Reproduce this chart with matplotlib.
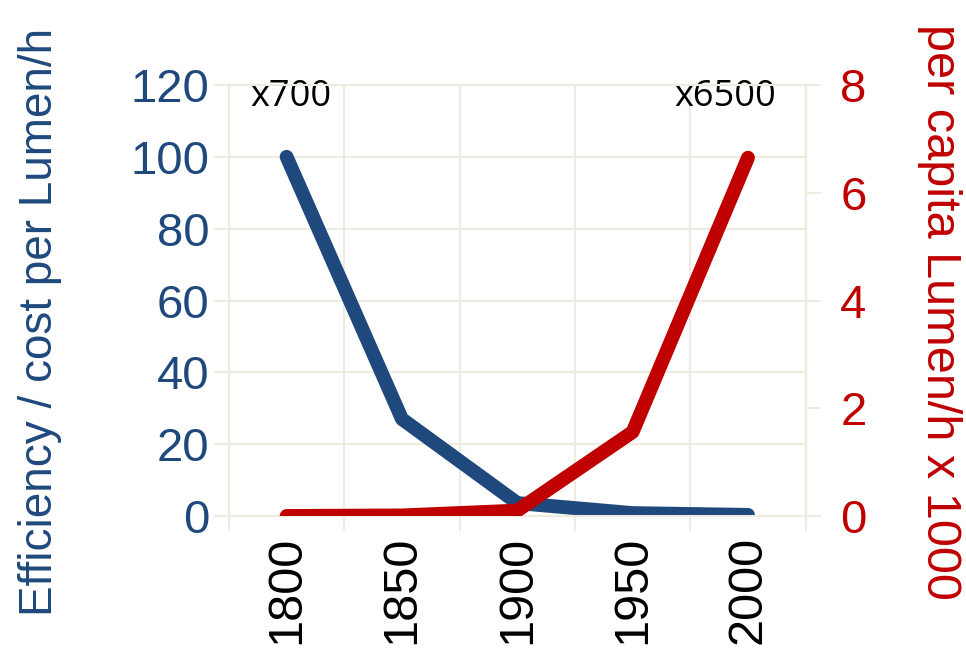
import matplotlib
matplotlib.use('Agg')
import matplotlib.pyplot as plt

years = ['1800', '1850', '1900', '1950', '2000']
efficiency = [100, 27, 3.6, 0.8, 0.3]
perCapita = [0, 0.01, 0.1, 1.56, 6.65]
leftTicks = [0, 20, 40, 60, 80, 100, 120]
rightTicks = [0, 2, 4, 6, 8]

blue = '#1F497D'
red = '#C00000'
gridCol = '#EEECE1'

plt.rcParams['font.family'] = ['Liberation Sans', 'DejaVu Sans']

fig = plt.figure(figsize=(9.66, 6.52), dpi=100)
ax = fig.add_axes([0.237, 0.2086, 0.597, 0.661])
ax2 = ax.twinx()

xs = list(range(len(years)))
ax.plot(xs, efficiency, color=blue, linewidth=10, solid_capstyle='round', solid_joinstyle='round', zorder=3)
ax2.plot(xs, perCapita, color=red, linewidth=10, solid_capstyle='round', solid_joinstyle='round', zorder=3)

ax.set_xlim(-0.5, 4.5)
ax.set_ylim(0, 120)
ax2.set_ylim(0, 8)

ax.set_yticks(leftTicks)
ax2.set_yticks(rightTicks)
ax.set_xticks([i - 0.5 for i in range(len(years) + 1)])
ax.set_xticklabels([])
ax.set_xticks(xs, minor=True)
ax.set_xticklabels(years, minor=True, rotation=90, fontsize=35)
ax.tick_params(axis='x', which='minor', length=0, pad=14)
ax.tick_params(axis='x', which='major', length=11, width=1.5, color=gridCol)

ax.tick_params(axis='y', labelsize=34, labelcolor=blue, length=11, width=1.5, color=gridCol, pad=3)
ax2.tick_params(axis='y', labelsize=34, labelcolor=red, length=11, width=1.5, color=gridCol, pad=14)

ax.grid(True, which='major', color=gridCol, linewidth=1.5)
ax.set_axisbelow(True)
for a in (ax, ax2):
    for s in a.spines.values():
        s.set_color(gridCol)
        s.set_linewidth(1.5)

# axis titles placed directly to match the reference positions
fig.text(0.0414, 0.506, 'Efficiency / cost per Lumen/h', color=blue, fontsize=33,
         rotation=90, ha='center', va='center')
fig.text(0.973, 0.521, 'per capita Lumen/h x 1000', color=red, fontsize=35,
         rotation=270, ha='center', va='center')

ax.text(0.04, 116.7, 'x700', fontsize=26, family='Open Sans', ha='center', va='center')
ax.text(3.8, 116.7, 'x6500', fontsize=26, family='Open Sans', ha='center', va='center')

fig.savefig('out.png', dpi=100)
